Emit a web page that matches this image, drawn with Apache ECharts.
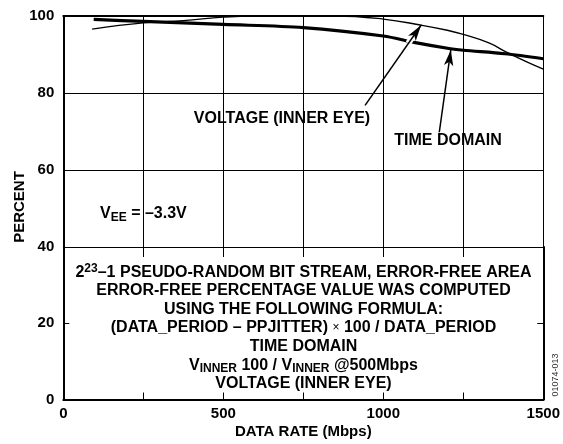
<!DOCTYPE html>
<html>
<head>
<meta charset="utf-8">
<script src="https://cdn.jsdelivr.net/npm/echarts@6/dist/echarts.min.js"></script>
<style>
  html, body { margin: 0; padding: 0; background: #fff; }
  #chart { width: 563px; height: 444px; }
</style>
</head>
<body>
<div id="chart"></div>
<script>
// data rate (Mbps) vs error-free percentage
const timeRate = [95, 250, 500, 750, 1000, 1100, 1210, 1250, 1380, 1500];
const timePct = [99.1, 98.6, 97.8, 97.0, 94.8, 93.1, 91.5, 91.1, 90.2, 88.9];

const voltRate = [90, 250, 375, 500, 600, 850, 1000, 1120, 1200, 1250, 1330, 1385, 1450, 1500];
const voltPct = [96.6, 98.2, 98.8, 99.7, 100, 100, 99.2, 97.6, 96.3, 95.2, 93.0, 90.6, 88.0, 86.2];

const xTicks = [0, 500, 1000, 1500];

const FONT = '"Liberation Sans", Arial, sans-serif';

const chart = echarts.init(document.getElementById('chart'));

const frame = { show: true, lineStyle: { color: '#000', width: 2 } };
const noAxis = { show: false };
const tickLabel = { color: '#000', fontSize: 15, fontWeight: 'bold', fontFamily: FONT };

const option = {
    animation: false,
    backgroundColor: '#fff',
    grid: [
        { left: 63.3, right: 19.7, top: 16, height: 231 },
        { left: 63.3, right: 19.7, top: 247, height: 152.5 }
    ],
    xAxis: [
        {
            gridIndex: 0, type: 'value', position: 'bottom', min: 0, max: 1500, interval: 250,
            axisLine: { show: true, lineStyle: { color: '#000', width: 1 } },
            axisTick: { show: true, inside: false, length: 10, lineStyle: { color: '#000', width: 1 } },
            axisLabel: noAxis,
            splitLine: { show: true, lineStyle: { color: '#000', width: 1 } }
        },
        {
            gridIndex: 0, type: 'value', position: 'top', min: 0, max: 1500, interval: 250,
            axisLine: frame, axisTick: noAxis, axisLabel: noAxis, splitLine: noAxis
        },
        {
            gridIndex: 1, type: 'value', position: 'bottom', min: 0, max: 1500, interval: 250,
            axisLine: frame,
            axisTick: { show: true, inside: true, length: 7, lineStyle: { color: '#000', width: 1 } },
            axisLabel: Object.assign({}, tickLabel, {
                margin: 7,
                formatter: v => xTicks.includes(v) ? String(v) : ''
            }),
            splitLine: noAxis,
            name: 'DATA RATE (Mbps)',
            nameLocation: 'middle',
            nameGap: 25,
            nameTextStyle: { color: '#000', fontSize: 15, fontWeight: 'bold', fontFamily: FONT }
        }
    ],
    yAxis: [
        {
            gridIndex: 0, type: 'value', position: 'left', min: 40, max: 100, interval: 20,
            axisLine: frame, axisTick: noAxis,
            axisLabel: Object.assign({}, tickLabel, { margin: 9 }),
            splitLine: { show: true, lineStyle: { color: '#000', width: 1 } }
        },
        {
            gridIndex: 0, type: 'value', position: 'right', min: 40, max: 100, interval: 20,
            axisLine: frame, axisTick: noAxis, axisLabel: noAxis, splitLine: noAxis
        },
        {
            gridIndex: 1, type: 'value', position: 'left', min: 0, max: 40, interval: 20,
            axisLine: frame,
            axisTick: { show: true, inside: true, length: 6, lineStyle: { color: '#000', width: 1 } },
            axisLabel: Object.assign({}, tickLabel, { margin: 9, showMaxLabel: false }),
            splitLine: noAxis
        },
        {
            gridIndex: 1, type: 'value', position: 'right', min: 0, max: 40, interval: 20,
            axisLine: frame,
            axisTick: { show: true, inside: true, length: 6, lineStyle: { color: '#000', width: 1 } },
            axisLabel: noAxis, splitLine: noAxis
        }
    ],
    series: [
        {
            name: 'TIME DOMAIN',
            type: 'line',
            xAxisIndex: 0, yAxisIndex: 0,
            data: timeRate.map((x, i) => [x, timePct[i]]),
            smooth: 0.3,
            showSymbol: false,
            lineStyle: { color: '#000', width: 3.2 },
            z: 2
        },
        {
            name: 'VOLTAGE (INNER EYE)',
            type: 'line',
            xAxisIndex: 0, yAxisIndex: 0,
            data: voltRate.map((x, i) => [x, voltPct[i]]),
            smooth: 0.45,
            showSymbol: false,
            lineStyle: { color: '#000', width: 1.3 },
            z: 3
        },
        {
            name: 'notes',
            type: 'line',
            xAxisIndex: 0, yAxisIndex: 0,
            data: [],
            silent: true,
            markLine: {
                silent: true,
                symbol: ['none', 'none'],
                label: { show: false },
                data: [
                    // white gap where the arrow crosses the thick curve
                    [
                        { coord: [1078, 92.9], lineStyle: { color: '#fff', width: 6, type: 'solid' } },
                        { coord: [1104, 96.0] }
                    ],
                    [
                        { coord: [943, 76.8], symbol: 'none', lineStyle: { color: '#000', width: 1.5, type: 'solid' } },
                        { coord: [1118, 97.6], symbol: 'arrow', symbolSize: [7, 16] }
                    ],
                    [
                        { coord: [1175, 69.8], symbol: 'none', lineStyle: { color: '#000', width: 1.5, type: 'solid' } },
                        { coord: [1211, 91.2], symbol: 'arrow', symbolSize: [7, 16] }
                    ]
                ]
            }
        }
    ],
    graphic: [
        {
            type: 'text', x: 282, y: 119,
            style: { text: 'VOLTAGE (INNER EYE)', font: 'bold 16px ' + FONT, fill: '#000', align: 'center', verticalAlign: 'middle' }
        },
        {
            type: 'text', x: 448, y: 141,
            style: { text: 'TIME DOMAIN', font: 'bold 16px ' + FONT, fill: '#000', align: 'center', verticalAlign: 'middle' }
        },
        {
            type: 'text', x: 100, y: 214,
            style: {
                text: '{b|V}{sub|EE}{b| = –3.3V}',
                align: 'left', verticalAlign: 'middle',
                rich: {
                    b: { font: 'bold 16px ' + FONT, fill: '#000', lineHeight: 19 },
                    sub: { font: 'bold 12px ' + FONT, fill: '#000', lineHeight: 11, verticalAlign: 'bottom' }
                }
            }
        },
        {
            type: 'text', x: 303.5, y: 328,
            style: {
                text: [
                    '{b|2}{sup|23}{b|–1 PSEUDO-RANDOM BIT STREAM, ERROR-FREE AREA}',
                    '{b|ERROR-FREE PERCENTAGE VALUE WAS COMPUTED}',
                    '{b|USING THE FOLLOWING FORMULA:}',
                    '{b|(DATA_PERIOD – PPJITTER) }{x|×}{b| 100 / DATA_PERIOD}',
                    '{b|TIME DOMAIN}',
                    '{b|V}{sub|INNER}{b| 100 / V}{sub|INNER}{b| @500Mbps}',
                    '{b|VOLTAGE (INNER EYE)}'
                ].join('\n'),
                align: 'center', verticalAlign: 'middle',
                rich: {
                    b: { font: 'bold 16px ' + FONT, fill: '#000', lineHeight: 18.6 },
                    sup: { font: 'bold 12px ' + FONT, fill: '#000', lineHeight: 13, verticalAlign: 'top' },
                    sub: { font: 'bold 12px ' + FONT, fill: '#000', lineHeight: 11, verticalAlign: 'bottom' },
                    x: { font: '12px ' + FONT, fill: '#000', lineHeight: 18.6 }
                }
            }
        },
        {
            type: 'text', x: 20, y: 207, rotation: Math.PI / 2,
            style: { text: 'PERCENT', font: 'bold 15px ' + FONT, fill: '#000', align: 'center', verticalAlign: 'middle' }
        },
        {
            type: 'text', x: 556, y: 375, rotation: Math.PI / 2,
            style: { text: '01074-013', font: '9px ' + FONT, fill: '#333', align: 'center', verticalAlign: 'middle' }
        }
    ]
};

chart.setOption(option);
</script>
</body>
</html>
